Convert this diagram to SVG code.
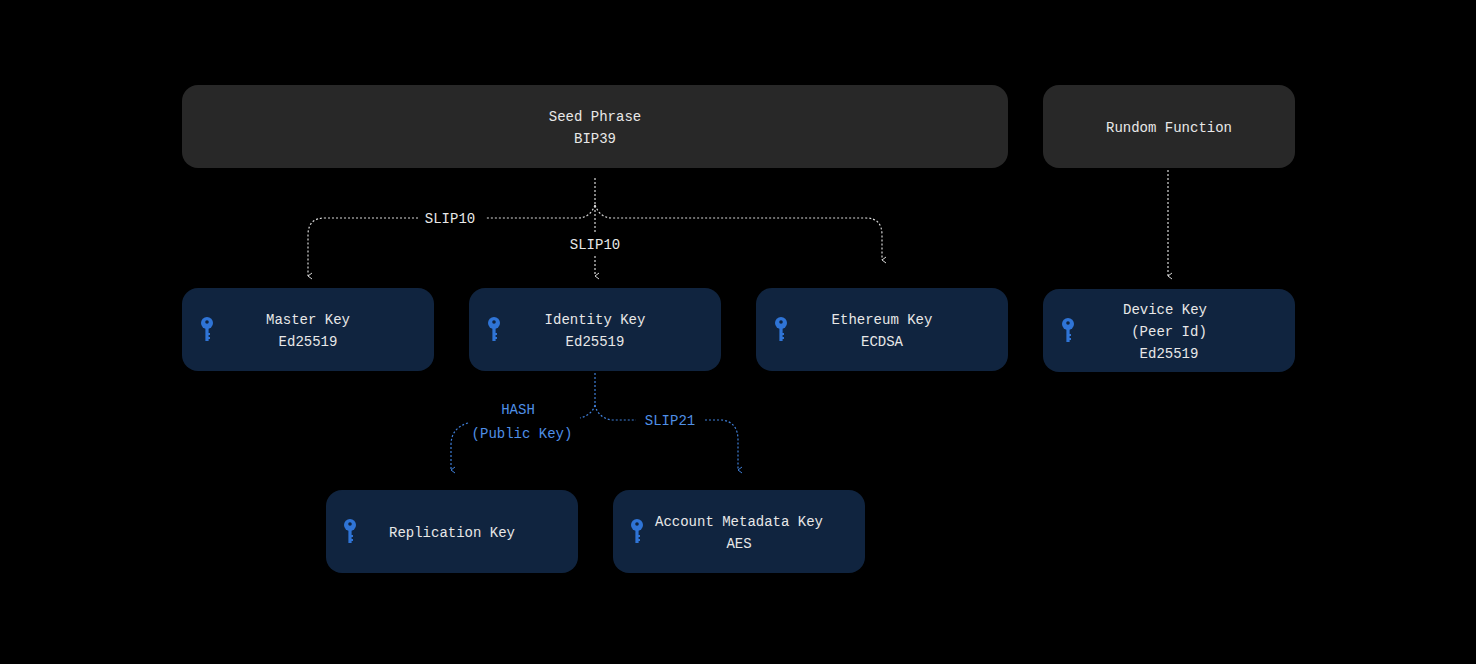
<svg xmlns="http://www.w3.org/2000/svg" width="1476" height="664" viewBox="0 0 1476 664">
<defs>
<style>
.t{font-family:"Liberation Mono","DejaVu Sans Mono",monospace;font-size:14px;fill:#e8e8e8;text-anchor:middle}
.b{fill:#4f8fe6}
.g{fill:#282828}
.k{fill:#10243f}
.w{fill:none;stroke:#d8d8d8;stroke-width:1.2;stroke-dasharray:2 2}
.u{fill:none;stroke:#3f7fd8;stroke-width:1.2;stroke-dasharray:2 2}
</style>
<marker id="aw" markerWidth="8" markerHeight="8" refX="4" refY="6" orient="auto" markerUnits="userSpaceOnUse"><path d="M1,2 L4,6 L7,2" fill="none" stroke="#d8d8d8" stroke-width="1"/></marker>
<marker id="ab" markerWidth="8" markerHeight="8" refX="4" refY="6" orient="auto" markerUnits="userSpaceOnUse"><path d="M1,2 L4,6 L7,2" fill="none" stroke="#3f7fd8" stroke-width="1"/></marker>
<g id="key"><circle cx="0" cy="-4" r="6" fill="#2f74d6"/><circle cx="0" cy="-5" r="1.8" fill="#10243f"/><rect x="-1.6" y="0" width="3.2" height="14" fill="#2f74d6"/><rect x="1" y="6" width="2" height="2" fill="#2f74d6"/><rect x="1" y="10" width="2" height="2" fill="#2f74d6"/></g>
</defs>
<rect width="1476" height="664" fill="#000"/>
<g id="connectors">
<path class="w" d="M595,178 V232 M595,256 V276" marker-end="url(#aw)"/>
<path class="w" d="M595,205 Q590,218 578,218 H485 M418,218 H325 Q308,218 308,235 V276" marker-end="url(#aw)"/>
<path class="w" d="M595,205 Q600,218 612,218 H866 Q882,218 882,235 V260" marker-end="url(#aw)"/>
<path class="w" d="M1168,170 V276" marker-end="url(#aw)"/>
<path class="u" d="M595,373 V405 Q592,415 580,418 M468,423 Q451,428 451,445 V470" marker-end="url(#ab)"/>
<path class="u" d="M595,405 Q598,418 612,420 H636 M705,420 H722 Q738,422 738,440 V470" marker-end="url(#ab)"/>
<text class="t" x="450" y="223">SLIP10</text>
<text class="t" x="595" y="249">SLIP10</text>
<text class="t b" x="518" y="414">HASH</text>
<text class="t b" x="522" y="438">(Public Key)</text>
<text class="t b" x="670" y="425">SLIP21</text>
</g>
<g id="seed"><rect class="g" x="182" y="85" width="826" height="83" rx="16"/><text class="t" x="595" y="121">Seed Phrase</text><text class="t" x="595" y="143">BIP39</text></g>
<g id="rundom"><rect class="g" x="1043" y="85" width="252" height="83" rx="16"/><text class="t" x="1169" y="132">Rundom Function</text></g>
<g id="master"><rect class="k" x="182" y="288" width="252" height="83" rx="16"/><use href="#key" x="207" y="327"/><text class="t" x="308" y="324">Master Key</text><text class="t" x="308" y="346">Ed25519</text></g>
<g id="identity"><rect class="k" x="469" y="288" width="252" height="83" rx="16"/><use href="#key" x="494" y="327"/><text class="t" x="595" y="324">Identity Key</text><text class="t" x="595" y="346">Ed25519</text></g>
<g id="ethereum"><rect class="k" x="756" y="288" width="252" height="83" rx="16"/><use href="#key" x="781" y="327"/><text class="t" x="882" y="324">Ethereum Key</text><text class="t" x="882" y="346">ECDSA</text></g>
<g id="device"><rect class="k" x="1043" y="289" width="252" height="83" rx="16"/><use href="#key" x="1068" y="328"/><text class="t" x="1165" y="314">Device Key</text><text class="t" x="1169" y="336">(Peer Id)</text><text class="t" x="1169" y="358">Ed25519</text></g>
<g id="replication"><rect class="k" x="326" y="490" width="252" height="83" rx="16"/><use href="#key" x="350" y="529"/><text class="t" x="452" y="537">Replication Key</text></g>
<g id="account"><rect class="k" x="613" y="490" width="252" height="83" rx="16"/><use href="#key" x="637" y="529"/><text class="t" x="739" y="526">Account Metadata Key</text><text class="t" x="739" y="548">AES</text></g>
</svg>
